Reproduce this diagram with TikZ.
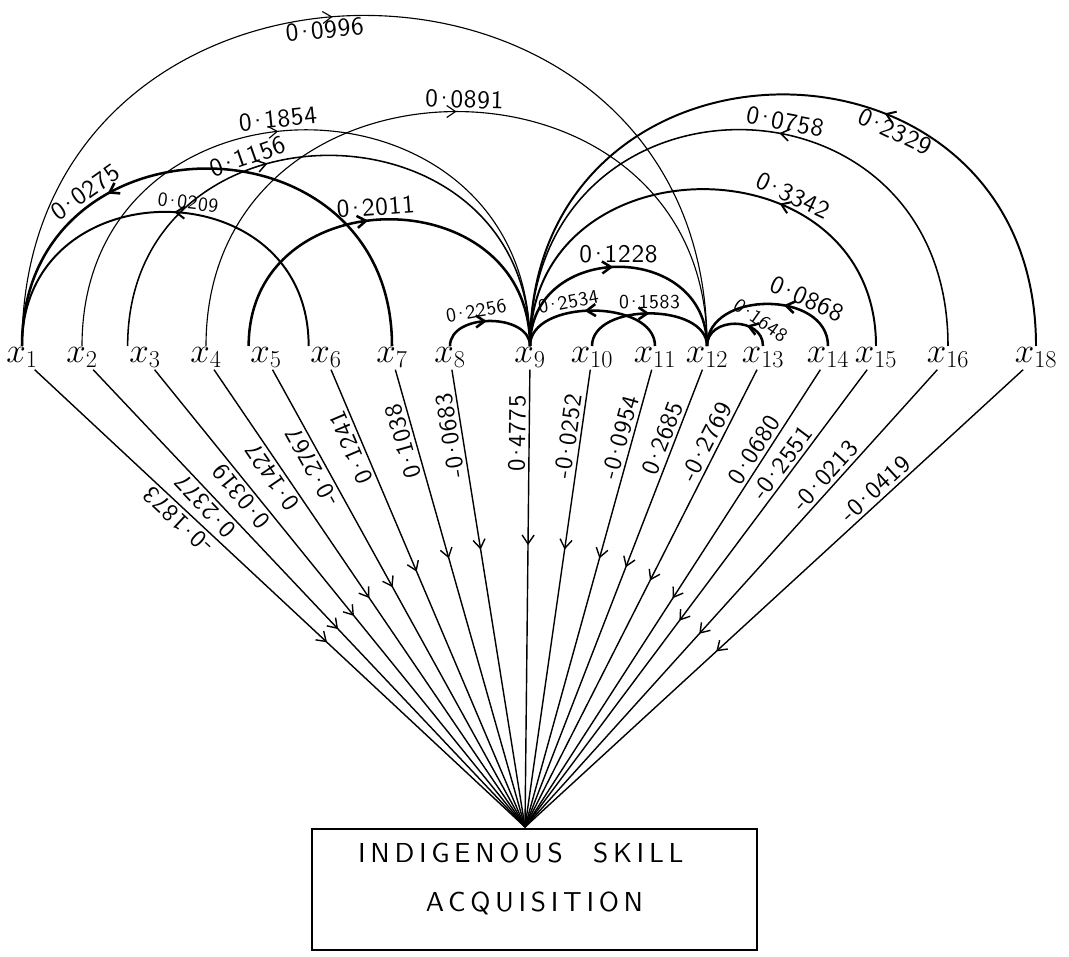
\documentclass[tikz,border=0pt]{standalone}
\usepackage{fontspec}
\usetikzlibrary{arrows.meta,decorations.markings}
\newfontfamily\handfont[LetterSpace=3]{lmsans10-regular.otf}
\newfontfamily\boxfont[LetterSpace=17]{lmsans10-regular.otf}
\newcommand{\cf}[2]{#1\kern-.14em·\kern-.14em#2}

\begin{document}
\begin{tikzpicture}[x=0.025cm, y=0.025cm, >={Straight Barb[length=2.2mm,width=3mm]},
		var/.style={inner sep=1pt, anchor=north, font=\fontsize{26}{28}\selectfont},
		lnk/.style={line width=0.8pt},
		lnkb/.style={line width=1.8pt},
		rad/.style={line width=1pt},
		fwd/.style={postaction={decorate}, decoration={markings, mark=at position #1 with {\arrow{>}}}},
		bwd/.style={postaction={decorate}, decoration={markings, mark=at position #1 with {\arrow{<}}}},
		coef/.style={sloped, inner sep=2pt, font=\handfont\fontsize{18}{20}\selectfont},
		scoef/.style={coef, font=\handfont\fontsize{14}{16}\selectfont},
		rcoef/.style={sloped, allow upside down, above, inner sep=2pt, font=\handfont\fontsize{17.5}{20}\selectfont},
		box/.style={draw, line width=1pt, minimum width=11.125cm, minimum height=3.025cm,
			align=center, text depth=0.6cm, font=\boxfont\fontsize{19.5}{35}\selectfont}]
	\useasboundingbox (0,0) rectangle (1069,956);
	% the variables, left to right
	\node[var] (x1)  at (22,610)   {$x_{1}$};
	\node[var] (x2)  at (82,610)   {$x_{2}$};
	\node[var] (x3)  at (145,610)  {$x_{3}$};
	\node[var] (x4)  at (206,610)  {$x_{4}$};
	\node[var] (x5)  at (266,610)  {$x_{5}$};
	\node[var] (x6)  at (326,610)  {$x_{6}$};
	\node[var] (x7)  at (392,610)  {$x_{7}$};
	\node[var] (x8)  at (450,610)  {$x_{8}$};
	\node[var] (x9)  at (530,610)  {$x_{9}$};
	\node[var] (x10) at (592,610)  {$x_{10}$};
	\node[var] (x11) at (655,610)  {$x_{11}$};
	\node[var] (x12) at (707,610)  {$x_{12}$};
	\node[var] (x13) at (763,610)  {$x_{13}$};
	\node[var] (x14) at (828,610)  {$x_{14}$};
	\node[var] (x15) at (876,610)  {$x_{15}$};
	\node[var] (x16) at (948,610)  {$x_{16}$};
	\node[var] (x18) at (1036,610) {$x_{18}$};
	% dependent variable
	\node[box] (isa) at (534.5,66.5) {INDIGENOUS\hspace{1.1em}SKILL\hspace*{1em}\\ACQUISITION};
	\coordinate (sink) at (525,129);
	% direct paths into the box
	\draw[rad, bwd=0.42]  (sink) -- (x1)  node[rcoef, pos=0.69]  {\cf{-0}{1873}};
	\draw[rad, bwd=0.45]  (sink) -- (x2)  node[rcoef, pos=0.72]  {\cf{0}{2377}};
	\draw[rad, bwd=0.48]  (sink) -- (x3)  node[rcoef, pos=0.74]  {\cf{0}{0319}};
	\draw[rad, bwd=0.52]  (sink) -- (x4)  node[rcoef, pos=0.78]  {\cf{0}{1427}};
	\draw[rad, bwd=0.545] (sink) -- (x5)  node[rcoef, pos=0.80]  {\cf{-0}{2767}};
	\draw[rad, bwd=0.58]  (sink) -- (x6)  node[rcoef, pos=0.84]  {\cf{0}{1241}};
	\draw[rad, bwd=0.61]  (sink) -- (x7)  node[rcoef, pos=0.85]  {\cf{0}{1038}};
	\draw[rad, bwd=0.63]  (sink) -- (x8)  node[rcoef, pos=0.86]  {\cf{-0}{0683}};
	\draw[rad, bwd=0.64]  (sink) -- (x9)  node[rcoef, pos=0.86]  {\cf{0}{4775}};
	\draw[rad, bwd=0.63]  (sink) -- (x10) node[rcoef, pos=0.85]  {\cf{-0}{0252}};
	\draw[rad, bwd=0.61]  (sink) -- (x11) node[rcoef, pos=0.845] {\cf{-0}{0954}};
	\draw[rad, bwd=0.59]  (sink) -- (x12) node[rcoef, pos=0.84]  {\cf{0}{2685}};
	\draw[rad, bwd=0.56]  (sink) -- (x13) node[rcoef, pos=0.83]  {\cf{-0}{2769}};
	\draw[rad, bwd=0.52]  (sink) -- (x14) node[rcoef, pos=0.81]  {\cf{0}{0680}};
	\draw[rad, bwd=0.47]  (sink) -- (x15) node[rcoef, pos=0.78]  {\cf{-0}{2551}};
	\draw[rad, bwd=0.44]  (sink) -- (x16) node[rcoef, pos=0.75]  {\cf{-0}{0213}};
	\draw[rad, bwd=0.40]  (sink) -- (x18) node[rcoef, pos=0.72]  {\cf{-0}{0419}};
	% indirect paths (arcs over the variables)
	\draw[lnk, fwd=0.47] (x1.north) to[out=90, in=90, looseness=1.65]
		node[coef, pos=0.46, below] {\cf{0}{0996}} (x12.north);
	\draw[lnk, fwd=0.46] (x2.north) to[out=90, in=90, looseness=1.65]
		node[coef, pos=0.46, above] {\cf{0}{1854}} (x9.north);
	\draw[lnk, line width=1.1pt, fwd=0.40] (x3.north west) to[out=90, in=90, looseness=1.62]
		node[coef, pos=0.37, above] {\cf{0}{1156}} (x9.north);
	\draw[lnk, fwd=0.50] (x4.north) to[out=90, in=90, looseness=1.6]
		node[coef, pos=0.51, above] {\cf{0}{0891}} (x12.north);
	\draw[lnkb, fwd=0.68] (x7.north) to[out=90, in=90, looseness=1.64]
		node[coef, pos=0.72, above] {\cf{0}{0275}} (x1.north);
	\draw[lnkb, line width=1.4pt, fwd=0.48] (x6.north west) to[out=90, in=90, looseness=1.6]
		node[scoef, pos=0.45, above] {\cf{0}{0209}} (x1.north);
	\draw[lnkb, fwd=0.45] (x5.north west) to[out=90, in=90, looseness=1.54]
		node[coef, pos=0.47, above] {\cf{0}{2011}} (x9.north);
	\draw[lnkb, fwd=0.47] (x8.north) to[out=90, in=90, looseness=1.07]
		node[scoef, pos=0.40, above] {\cf{0}{2256}} (x9.north);
	\draw[lnkb, line width=1.4pt, fwd=0.37] (x18.north) to[out=90, in=90, looseness=1.7]
		node[coef, pos=0.34, below] {\cf{0}{2329}} (x9.north);
	\draw[lnk, line width=1.1pt, fwd=0.44] (x16.north) to[out=90, in=90, looseness=1.77]
		node[coef, pos=0.43, above] {\cf{0}{0758}} (x9.north);
	\draw[lnkb, line width=1.4pt, fwd=0.35] (x15.north) to[out=90, in=90, looseness=1.55]
		node[coef, pos=0.33, above] {\cf{0}{3342}} (x9.north);
	\draw[lnkb, fwd=0.48] (x9.north) to[out=90, in=90, looseness=1.53]
		node[coef, pos=0.50, above] {\cf{0}{1228}} (x12.north);
	\draw[lnkb, fwd=0.55] (x11.north) to[out=90, in=90, looseness=0.97]
		node[scoef, pos=0.62, above] {\cf{0}{2534}} (x9.north);
	\draw[lnkb, fwd=0.50] (x10.north) to[out=90, in=90, looseness=0.97]
		node[scoef, pos=0.50, above] {\cf{0}{1583}} (x12.north);
	\draw[lnkb, fwd=0.40] (x14.north) to[out=90, in=90, looseness=1.19]
		node[coef, pos=0.30, above] {\cf{0}{0868}} (x12.north);
	\draw[lnkb, fwd=0.35] (x13.north) to[out=90, in=90, looseness=1.36]
		node[scoef, pos=0.25, above] {\cf{0}{1648}} (x12.north);
\end{tikzpicture}
\end{document}
